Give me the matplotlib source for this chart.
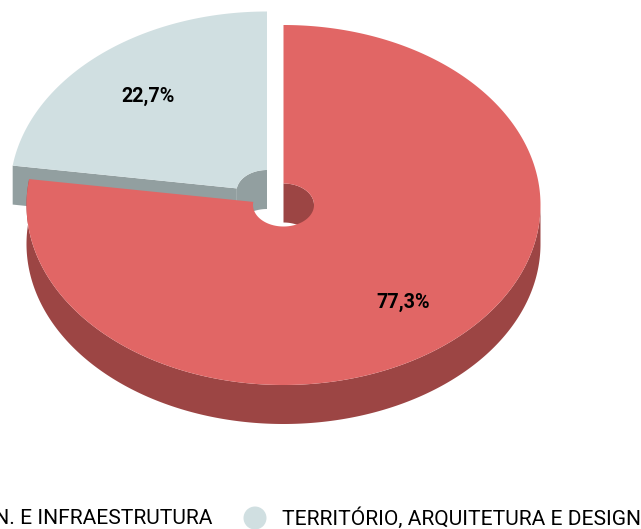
import numpy as np
import matplotlib
matplotlib.use('Agg')
import matplotlib.pyplot as plt
from matplotlib.patches import Polygon, Ellipse

categories = ['ENGEN. E INFRAESTRUTURA', 'TERRITÓRIO, ARQUITETURA E DESIGN']
values = [77.3, 22.7]
labels = ['77,3%', '22,7%']
top_colors = ['#E16665', '#D0DFE1']
side_colors = ['#9C4544', '#929FA0']

fig = plt.figure(figsize=(6.41, 5.29), dpi=100)
ax = fig.add_axes([0, 0, 1, 1])
ax.set_xlim(0, 641)
ax.set_ylim(529, 0)
ax.axis('off')

RX, RY, rx, ry, DEPTH = 257, 180, 30.5, 21.5, 39
CENTERS = [(283.5, 205), (267, 191.5)]
LABEL_POS = [(403, 302), (148, 96)]


def arc(c, a, b, radx, rady, dy=0, n=800):
    t = np.radians(np.linspace(a, b, n))
    return np.column_stack([c[0] + radx * np.cos(t), c[1] - rady * np.sin(t) + dy])


end = 90 - 360 * values[0] / sum(values)   # clockwise end of first slice
c0, c1 = CENTERS

# second (exploded) slice: faces first, it lies behind the first one
seam = end + 360
cut_top = np.vstack([arc(c1, seam, seam, rx, ry, n=1), arc(c1, seam, seam, RX, RY, n=1)])
cut = np.vstack([cut_top, cut_top[::-1] + [0, DEPTH]])
ax.add_patch(Polygon(cut, fc=side_colors[1], ec='none', zorder=1))
inner_wall = np.vstack([arc(c1, 90, seam, rx, ry), arc(c1, seam, 90, rx, ry, DEPTH)])
ax.add_patch(Polygon(inner_wall, fc=side_colors[1], ec='none', zorder=1))
face = np.vstack([arc(c1, 90, seam, RX, RY), arc(c1, seam, 90, rx, ry)])
ax.add_patch(Polygon(face, fc=top_colors[1], ec='none', zorder=2))

# first slice
outer_wall = np.vstack([arc(c0, 0, end, RX, RY), arc(c0, end, 0, RX, RY, DEPTH)])
ax.add_patch(Polygon(outer_wall, fc=side_colors[0], ec='none', zorder=3))
hole_wall = np.vstack([arc(c0, 90, 0, rx, ry), arc(c0, 0, 90, rx, ry, DEPTH)])
ax.add_patch(Polygon(hole_wall, fc=side_colors[0], ec='none', zorder=3))
face = np.vstack([arc(c0, 90, end, RX, RY), arc(c0, end, 90, rx, ry)])
ax.add_patch(Polygon(face, fc=top_colors[0], ec='none', zorder=4))

for (x, y), s in zip(LABEL_POS, labels):
    ax.text(x, y, s, ha='center', va='center', family='Roboto', weight='bold',
            fontsize=14.2, color='black', zorder=5)

# legend, cut by the left edge of the figure as in the reference
ax.text(212, 518, categories[0], ha='right', va='center', family='Roboto',
        fontsize=15.1, color='black', zorder=5)
ax.add_patch(Ellipse((255, 518), 23, 23, fc=top_colors[1], ec='none', zorder=5))
ax.text(282, 518, categories[1], ha='left', va='center', family='Roboto',
        fontsize=15.1, color='black', zorder=5)

fig.savefig('out.png', dpi=100)
